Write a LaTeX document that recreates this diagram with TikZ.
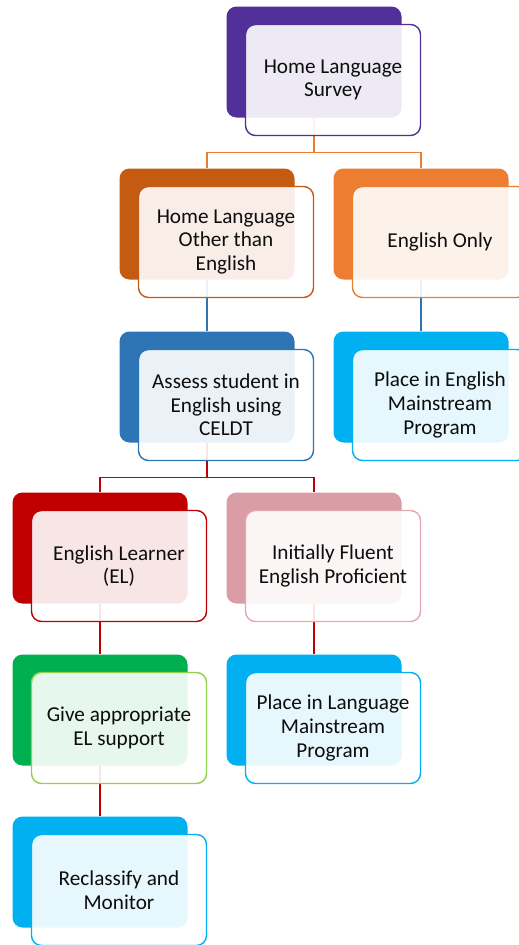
\documentclass[tikz,border=0pt]{standalone}
\usepackage{fontspec}
\setmainfont{Carlito}
\usepackage{tikz}
\usetikzlibrary{backgrounds}
\definecolor{cpurple}{HTML}{51309A}
\definecolor{cdorange}{HTML}{C55A11}
\definecolor{corange}{HTML}{ED7D31}
\definecolor{cblue}{HTML}{2E75B6}
\definecolor{ccyan}{HTML}{00B0F0}
\definecolor{cred}{HTML}{C00000}
\definecolor{cpink}{HTML}{DA9DA5}
\definecolor{cpinkline}{HTML}{E4A9B0}
\definecolor{cgreen}{HTML}{00B050}
\definecolor{cgreenline}{HTML}{92D050}
\definecolor{ctext}{HTML}{0D0D0D}
\tikzset{
  backbox/.style={rounded corners=10pt,minimum width=175pt,minimum height=111pt,inner sep=0pt,fill=#1},
  frontbox/.style={rounded corners=10pt,minimum width=175pt,minimum height=111pt,inner sep=0pt,
    draw=#1,line width=1.4pt,fill=white,fill opacity=0.9,text opacity=1,align=center,
    font=\fontsize{21.2}{23.6}\selectfont,text=ctext},
  link/.style={line width=1.5pt,draw=#1}
}
\begin{document}
\begin{tikzpicture}[x=1pt,y=-1pt]
       \useasboundingbox(0,0)rectangle(519,945);
       % back boxes
       \node[backbox=cpurple](hls-b)at(314,62){};
       \node[backbox=cdorange](hlo-b)at(207,224){};
       \node[backbox=corange](eo-b)at(421,224){};
       \node[backbox=cblue](celdt-b)at(207,387){};
       \node[backbox=ccyan](pem-b)at(421,387){};
       \node[backbox=cred](el-b)at(100,548){};
       \node[backbox=cpink](ifep-b)at(314,548){};
       \node[backbox=cgreen](sup-b)at(100,710){};
       \node[backbox=ccyan](plm-b)at(314,710){};
       \node[backbox=ccyan](rec-b)at(100,872){};
       % front boxes
       \node[frontbox=cpurple](hls)at([shift={(19,18)}]hls-b.center){Home Language\\Survey};
       \node[frontbox=cdorange](hlo)at([shift={(19,18)}]hlo-b.center){Home Language\\Other than\\English};
       \node[frontbox=corange](eo)at([shift={(19,18)}]eo-b.center){English Only};
       \node[frontbox=cblue](celdt)at([shift={(19,18)}]celdt-b.center){Assess student in\\English using\\CELDT};
       \node[frontbox=ccyan](pem)at([shift={(19,18)}]pem-b.center){Place in English\\Mainstream\\Program};
       \node[frontbox=cred](el)at([shift={(19,18)}]el-b.center){English Learner\\(EL)};
       \node[frontbox=cpinkline](ifep)at([shift={(19,18)}]ifep-b.center){Initially Fluent\\English Proficient};
       \node[frontbox=cgreenline](sup)at([shift={(19,18)}]sup-b.center){Give appropriate\\EL support};
       \node[frontbox=ccyan](plm)at([shift={(19,18)}]plm-b.center){Place in Language\\Mainstream\\Program};
       \node[frontbox=ccyan](rec)at([shift={(19,18)}]rec-b.center){Reclassify and\\Monitor};
       % links
       \begin{scope}[on background layer]
       \draw[link=corange](hls-b.south)--++(0,35)-|(hlo-b.north);
       \draw[link=corange](hls-b.south)--++(0,35)-|(eo-b.north);
       \draw[link=cblue](hlo-b.south)--(celdt-b.north);
       \draw[link=cblue](eo-b.south)--(pem-b.north);
       \draw[link=cred](celdt-b.south)--++(0,35)-|(el-b.north);
       \draw[link=cred](celdt-b.south)--++(0,35)-|(ifep-b.north);
       \draw[link=cred](el-b.south)--(sup-b.north);
       \draw[link=cred](ifep-b.south)--(plm-b.north);
       \draw[link=cred](sup-b.south)--(rec-b.north);
       \end{scope}
      \end{tikzpicture}
\end{document}
